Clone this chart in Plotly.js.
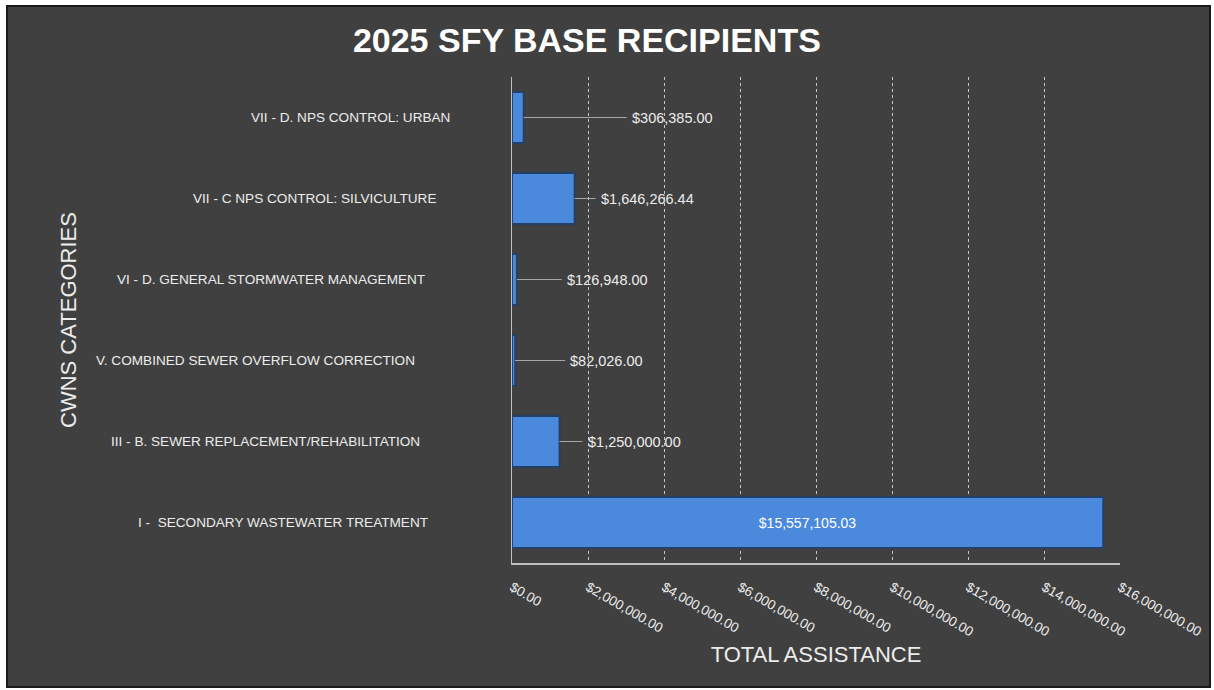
<!DOCTYPE html>
<html>
<head>
<meta charset="utf-8">
<script src="https://cdn.plot.ly/plotly-3.0.1.min.js"></script>
<style>
  html, body { margin: 0; padding: 0; background: #ffffff; }
  #frame { position: absolute; left: 6px; top: 5px; width: 1201px; height: 679px; border: 2px solid #1a1a1a; background: #404040; }
  #chart { width: 1201px; height: 679px; }
</style>
</head>
<body>
<div id="frame"><div id="chart"></div></div>
<script>
// ---- data ----
const categories = [
  'I -  SECONDARY WASTEWATER TREATMENT',
  'III - B. SEWER REPLACEMENT/REHABILITATION',
  'V. COMBINED SEWER OVERFLOW CORRECTION',
  'VI - D. GENERAL STORMWATER MANAGEMENT',
  'VII - C NPS CONTROL: SILVICULTURE',
  'VII - D. NPS CONTROL: URBAN'
];
const values = [15557105.03, 1250000.00, 82026.00, 126948.00, 1646266.44, 306385.00];
const tickValues = [0, 2000000, 4000000, 6000000, 8000000, 10000000, 12000000, 14000000, 16000000];

// ---- styling (pixel offsets) ----
const catLabelGap = [82, 90, 95, 85, 74, 60];      // gap between label end and axis
const valueLabelGap = [0, 23, 50, 45, 21, 103];    // gap between bar end and label
const insideLabel = [true, false, false, false, false, false];

function money(v) {
  return '$' + v.toLocaleString('en-US', {minimumFractionDigits: 2, maximumFractionDigits: 2});
}

const textColor = '#ececec';
const baseFont = 'Liberation Sans, Arial, sans-serif';

const trace = {
  type: 'bar',
  orientation: 'h',
  y: categories,
  x: values,
  marker: { color: '#4a89dc', line: { color: '#22406a', width: 1.8 } },
  text: values.map((v, i) => insideLabel[i] ? money(v) : ''),
  textposition: 'inside',
  insidetextanchor: 'middle',
  textfont: { color: '#ffffff', size: 14, family: baseFont },
  hoverinfo: 'x+y',
  cliponaxis: false
};

const annotations = [];
categories.forEach((c, i) => {
  annotations.push({
    xref: 'paper', yref: 'y', x: 0, y: c,
    text: c, showarrow: false, xanchor: 'right', yanchor: 'middle',
    xshift: -catLabelGap[i],
    font: { color: textColor, size: 13.6, family: baseFont }
  });
  if (!insideLabel[i]) {
    annotations.push({
      xref: 'x', yref: 'y', x: values[i], y: c,
      text: money(values[i]), showarrow: true, arrowhead: 0, arrowwidth: 1,
      arrowcolor: '#a6a6a6', ax: valueLabelGap[i], ay: 0, standoff: 0,
      xanchor: 'left', yanchor: 'middle', borderpad: 4,
      font: { color: textColor, size: 14.5, family: baseFont }
    });
  }
});

const layout = {
  width: 1201, height: 679,
  paper_bgcolor: '#404040', plot_bgcolor: '#404040',
  margin: { l: 504, r: 89, t: 70, b: 123 },
  showlegend: false,
  bargap: 0.37,
  title: {
    text: '2025 SFY BASE RECIPIENTS',
    x: 0.482, xanchor: 'center', xref: 'container',
    y: 0.951, yanchor: 'middle', yref: 'container',
    font: { family: 'Liberation Sans Narrow, Arial Narrow, Liberation Sans, sans-serif', size: 34, color: '#ffffff', weight: 'bold' }
  },
  xaxis: {
    range: [0, 16000000],
    tickvals: tickValues,
    ticktext: tickValues.map(money),
    tickangle: 30,
    ticks: '',
    ticklabelstandoff: 10,
    tickfont: { color: textColor, size: 13.5, family: baseFont },
    showgrid: true, gridcolor: '#c8c8c8', gridwidth: 1, griddash: 'dot',
    showline: true, linecolor: '#bfbfbf', linewidth: 1.5,
    zeroline: false,
    automargin: false,
    title: { text: 'TOTAL ASSISTANCE', standoff: 8, font: { color: textColor, size: 22, family: baseFont } }
  },
  yaxis: {
    type: 'category',
    showticklabels: false,
    ticks: '',
    showgrid: false,
    showline: true, linecolor: '#bfbfbf', linewidth: 1.5,
    zeroline: false,
    automargin: false,
    title: { text: 'CWNS CATEGORIES', standoff: 428, font: { color: textColor, size: 22, family: baseFont } }
  },
  annotations: annotations
};

Plotly.newPlot('chart', [trace], layout, { displayModeBar: false, staticPlot: true });
</script>
</body>
</html>
